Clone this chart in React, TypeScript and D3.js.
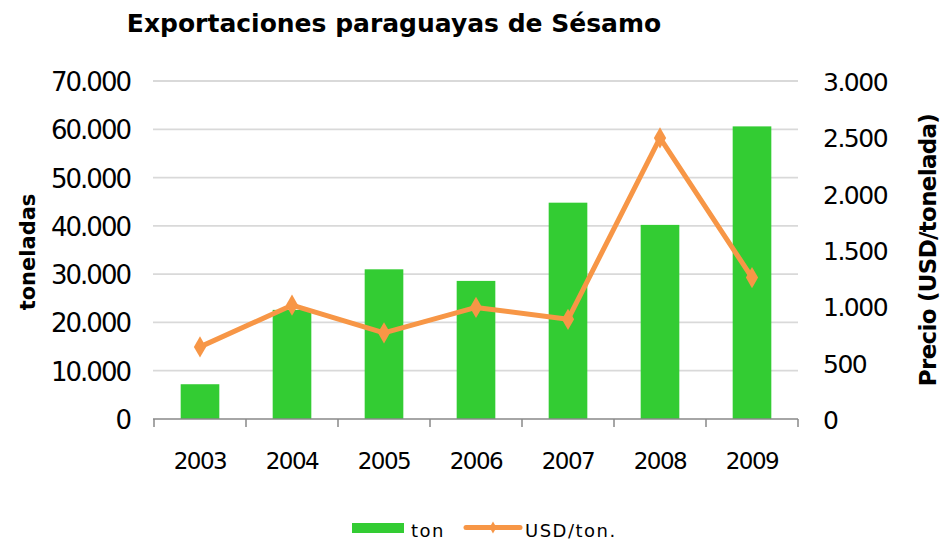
import React, { useEffect, useRef } from 'react';
import * as d3 from 'd3';

const years = ['2003', '2004', '2005', '2006', '2007', '2008', '2009'];
const toneladas = [7200, 22600, 31000, 28600, 44800, 40200, 60600];
const precioUsd = [640, 1010, 765, 990, 885, 2495, 1255];
const leftTicks = [0, 10000, 20000, 30000, 40000, 50000, 60000, 70000];
const rightTicks = [0, 500, 1000, 1500, 2000, 2500, 3000];

const fmt = (v: number) => d3.format(',')(v).replace(/,/g, '.');

const App = () => {
    const svgRef = useRef<SVGSVGElement>(null);

    useEffect(() => {
        document.body.style.margin = '0';
        const svg = d3.select(svgRef.current);
        svg.selectAll('*').remove();
        const width = 943;
        const height = 541;
        const margin = { top: 81, right: 145, bottom: 122, left: 154 };
        const font = '"DejaVu Sans", sans-serif';
        const bottomY = height - margin.bottom;

        const x = d3
            .scaleBand()
            .domain(years)
            .range([margin.left, width - margin.right])
            .paddingInner(0.58)
            .paddingOuter(0.29);
        const step = x.step();
        const yLeft = d3.scaleLinear().domain([0, 70000]).range([bottomY, margin.top]);
        const yRight = d3.scaleLinear().domain([0, 3000]).range([bottomY, margin.top]);

        // gridlines
        svg.append('g')
            .selectAll('line')
            .data(leftTicks.slice(1))
            .enter()
            .append('line')
            .attr('x1', margin.left - 1)
            .attr('x2', width - margin.right)
            .attr('y1', (d) => yLeft(d))
            .attr('y2', (d) => yLeft(d))
            .attr('stroke', '#d9d9d9')
            .attr('stroke-width', 1.8);

        // bars
        svg.append('g')
            .selectAll('rect')
            .data(years)
            .enter()
            .append('rect')
            .attr('x', (d) => x(d) as number)
            .attr('y', (d, i) => yLeft(toneladas[i]))
            .attr('width', x.bandwidth())
            .attr('height', (d, i) => bottomY - yLeft(toneladas[i]))
            .attr('fill', '#33cc33');

        // x axis
        const axis = svg.append('g');
        axis.append('line')
            .attr('x1', margin.left - 1)
            .attr('x2', width - margin.right)
            .attr('y1', bottomY)
            .attr('y2', bottomY)
            .attr('stroke', '#888')
            .attr('stroke-width', 1.5);
        const boundaries = years.map((d) => (x(d) as number) - (step - x.bandwidth()) / 2);
        boundaries.push(width - margin.right);
        axis.selectAll('.tick')
            .data(boundaries)
            .enter()
            .append('line')
            .attr('x1', (d) => d)
            .attr('x2', (d) => d)
            .attr('y1', bottomY)
            .attr('y2', bottomY + 8)
            .attr('stroke', '#888')
            .attr('stroke-width', 1.5);
        axis.selectAll('text')
            .data(years)
            .enter()
            .append('text')
            .attr('x', (d) => (x(d) as number) + x.bandwidth() / 2)
            .attr('y', 469)
            .attr('text-anchor', 'middle')
            .attr('letter-spacing', -1.5)
            .style('font-family', font)
            .style('font-size', '23px')
            .attr('fill', '#000')
            .text((d) => d);

        // left labels
        svg.append('g')
            .selectAll('text')
            .data(leftTicks)
            .enter()
            .append('text')
            .attr('x', 130)
            .attr('y', (d) => yLeft(d) + 10)
            .attr('text-anchor', 'end')
            .attr('letter-spacing', -2)
            .style('font-family', font)
            .style('font-size', '26px')
            .attr('fill', '#000')
            .text((d) => fmt(d));

        // right labels
        svg.append('g')
            .selectAll('text')
            .data(rightTicks)
            .enter()
            .append('text')
            .attr('x', 823)
            .attr('y', (d) => yRight(d) + 10)
            .attr('text-anchor', 'start')
            .attr('letter-spacing', -1.5)
            .style('font-family', font)
            .style('font-size', '25px')
            .attr('fill', '#000')
            .text((d) => fmt(d));

        // line
        const line = d3
            .line<number>()
            .x((d, i) => (x(years[i]) as number) + x.bandwidth() / 2)
            .y((d) => yRight(d));
        svg.append('path')
            .datum(precioUsd)
            .attr('d', line)
            .attr('fill', 'none')
            .attr('stroke', '#f79646')
            .attr('stroke-width', 5)
            .attr('stroke-linejoin', 'round');
        const diamond = d3.symbol().type(d3.symbolDiamond).size(130);
        svg.append('g')
            .selectAll('path')
            .data(precioUsd)
            .enter()
            .append('path')
            .attr('d', diamond)
            .attr('transform', (d, i) => `translate(${(x(years[i]) as number) + x.bandwidth() / 2},${yRight(d)})`)
            .attr('fill', '#f79646');

        // titles
        svg.append('text')
            .attr('x', 394)
            .attr('y', 32)
            .attr('text-anchor', 'middle')
            .style('font-family', font)
            .style('font-size', '25px')
            .style('font-weight', 'bold')
            .text('Exportaciones paraguayas de Sésamo');

        svg.append('text')
            .attr('transform', 'rotate(-90)')
            .attr('x', -252)
            .attr('y', 35)
            .attr('text-anchor', 'middle')
            .style('font-family', font)
            .style('font-size', '21px')
            .style('font-weight', 'bold')
            .text('toneladas');

        svg.append('text')
            .attr('transform', 'rotate(-90)')
            .attr('x', -250)
            .attr('y', 936)
            .attr('text-anchor', 'middle')
            .attr('letter-spacing', -0.7)
            .style('font-family', font)
            .style('font-size', '23px')
            .style('font-weight', 'bold')
            .text('Precio (USD/tonelada)');

        // legend
        const legend = svg.append('g').style('font-family', font).style('font-size', '18px');
        legend.append('rect').attr('x', 352).attr('y', 523).attr('width', 52).attr('height', 10).attr('fill', '#33cc33');
        legend.append('text').attr('x', 411).attr('y', 537).attr('letter-spacing', 1.5).text('ton');
        legend.append('line')
            .attr('x1', 466)
            .attr('x2', 520)
            .attr('y1', 527.5)
            .attr('y2', 527.5)
            .attr('stroke', '#f79646')
            .attr('stroke-width', 5)
            .attr('stroke-linecap', 'round');
        legend.append('path').attr('d', d3.symbol().type(d3.symbolDiamond).size(40)).attr('transform', 'translate(493,527.5)').attr('fill', '#f79646');
        legend.append('text').attr('x', 525).attr('y', 537).attr('letter-spacing', 1.5).text('USD/ton.');
    }, []);

    return <svg ref={svgRef} width={943} height={541} style={{ display: 'block' }} />;
};

export default App;
